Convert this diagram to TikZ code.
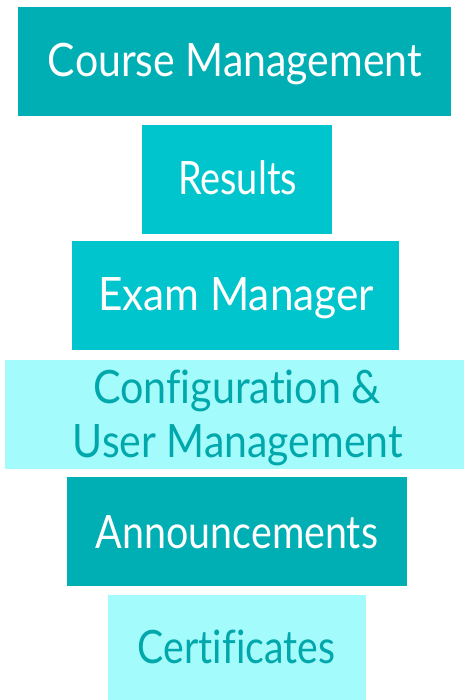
\documentclass[tikz,border=0pt]{standalone}
\usepackage{fontspec}
\setmainfont[Ligatures=NoCommon]{Lato}
\usepackage{graphicx}
\definecolor{darkteal}{HTML}{00AFB4}
\definecolor{midteal}{HTML}{00C5CC}
\definecolor{lightcyan}{HTML}{A3FBFC}
\definecolor{tealtext}{HTML}{00A8AC}
\tikzset{
  blk/.style={rectangle, inner sep=0pt, outer sep=0pt, draw=none, minimum height=109pt},
  darkblk/.style={blk, fill=darkteal},
  midblk/.style={blk, fill=midteal},
  lightblk/.style={blk, fill=lightcyan},
  wtxt/.style={inner sep=0pt, anchor=base, text=white, font=\fontsize{46}{54}\selectfont},
  ttxt/.style={wtxt, text=tealtext},
}
\newcommand{\fw}[2]{\resizebox{#1}{\height}{#2}}
\begin{document}
\begin{tikzpicture}[x=1pt,y=-1pt]
\useasboundingbox (0,0) rectangle (464,700);
\fill[white] (0,0) rectangle (464,700);
\node[darkblk, minimum width=433pt] (course) at (234.5,61.5) {};
\node[midblk, minimum width=190pt] (results) at (237,179.5) {};
\node[midblk, minimum width=327pt] (exam) at (235,295.5) {};
\node[lightblk, minimum width=459pt] (config) at (234.5,414.5) {};
\node[darkblk, minimum width=340pt] (ann) at (237,531.5) {};
\node[lightblk, minimum width=258pt, minimum height=105pt] (cert) at (237,647.5) {};
\node[wtxt] (coursetxt) at (235,76.7) {\fw{374pt}{Course Management}};
\node[wtxt] (resultstxt) at (237.5,194.3) {\fw{119pt}{Results}};
\node[wtxt] (examtxt) at (236,310.5) {\fw{276pt}{Exam Manager}};
\node[ttxt] (cfgtxta) at (237,403) {\fw{288pt}{Configuration \&}};
\node[ttxt] (cfgtxtb) at (238,457) {\fw{330pt}{User Management}};
\node[wtxt] (anntxt) at (237,548.3) {\fw{282pt}{Announcements}};
\node[ttxt] (certtxt) at (236.5,663.3) {\fw{197pt}{Certificates}};
\end{tikzpicture}
\end{document}
